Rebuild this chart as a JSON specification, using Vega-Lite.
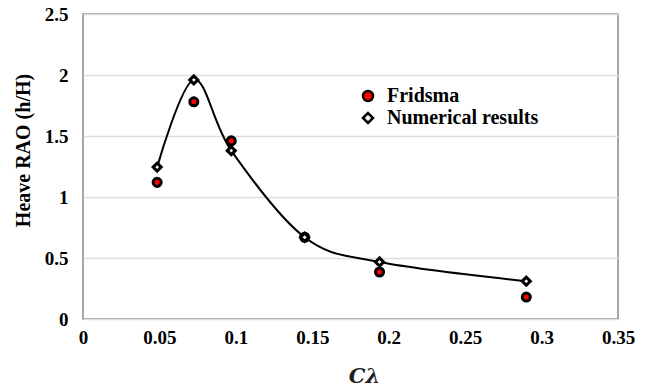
{
  "$schema": "https://vega.github.io/schema/vega-lite/v6.json",
  "autosize": "none",
  "width": 535,
  "height": 305,
  "padding": {"left": 83, "top": 14, "right": 33, "bottom": 73},
  "background": "white",
  "config": {
    "view": {"stroke": "#898989", "strokeWidth": 1.5},
    "font": "Liberation Serif"
  },
  "data": {
    "values": [
      {"series": "Fridsma", "x": 0.0485, "y": 1.12},
      {"series": "Fridsma", "x": 0.0725, "y": 1.78},
      {"series": "Fridsma", "x": 0.097, "y": 1.46},
      {"series": "Fridsma", "x": 0.145, "y": 0.67},
      {"series": "Fridsma", "x": 0.194, "y": 0.385},
      {"series": "Fridsma", "x": 0.29, "y": 0.18},
      {"series": "Numerical results", "x": 0.0485, "y": 1.245},
      {"series": "Numerical results", "x": 0.0725, "y": 1.96},
      {"series": "Numerical results", "x": 0.097, "y": 1.38},
      {"series": "Numerical results", "x": 0.145, "y": 0.67},
      {"series": "Numerical results", "x": 0.194, "y": 0.467},
      {"series": "Numerical results", "x": 0.29, "y": 0.31}
    ]
  },
  "encoding": {
    "x": {
      "field": "x", "type": "quantitative",
      "scale": {"domain": [0, 0.35], "nice": false, "zero": false},
      "axis": {
        "values": [0, 0.05, 0.1, 0.15, 0.2, 0.25, 0.3, 0.35],
        "format": ".2~f",
        "grid": false, "domain": false, "ticks": false,
        "labelFont": "Liberation Serif", "labelFontWeight": "bold", "labelFontSize": 19, "labelColor": "#000000",
        "labelPadding": 9, "labelFlush": false,
        "title": "Cλ",
        "titleFont": "DejaVu Serif", "titleFontStyle": "italic", "titleFontWeight": "bold", "titleFontSize": 21, "titleColor": "#1f1f1f",
        "titleX": 281, "titleY": 57, "titleAlign": "center", "titleBaseline": "middle"
      }
    },
    "y": {
      "field": "y", "type": "quantitative",
      "scale": {"domain": [0, 2.5], "nice": false},
      "axis": {
        "values": [0, 0.5, 1, 1.5, 2, 2.5],
        "format": "~g",
        "grid": true, "gridColor": "#dedede", "gridWidth": 1.5,
        "domain": false, "ticks": false,
        "labelFont": "Liberation Serif", "labelFontWeight": "bold", "labelFontSize": 19, "labelColor": "#000000",
        "labelPadding": 15,
        "title": "Heave RAO (h/H)",
        "titleFont": "Liberation Serif", "titleFontWeight": "bold", "titleFontSize": 20, "titleColor": "#000000",
        "titleX": -60, "titleY": 136, "titleAngle": -90, "titleAlign": "center", "titleBaseline": "middle"
      }
    }
  },
  "layer": [
    {
      "transform": [{"filter": "datum.series === 'Numerical results'"}],
      "mark": {"type": "line", "interpolate": "cardinal", "stroke": "#000000", "strokeWidth": 2},
      "encoding": {}
    },
    {
      "mark": {"type": "point", "filled": true, "stroke": "#000000", "strokeWidth": 3, "size": 65, "opacity": 1},
      "encoding": {
        "shape": {
          "field": "series", "type": "nominal",
          "scale": {"domain": ["Fridsma", "Numerical results"], "range": ["circle", "diamond"]},
          "legend": {
            "title": null,
            "orient": "none", "legendX": 275, "legendY": 72,
            "padding": 0, "rowPadding": 2, "labelOffset": 9,
            "labelFont": "Liberation Serif", "labelFontWeight": "bold", "labelFontSize": 20, "labelColor": "#000000",
            "symbolSize": 100, "symbolStrokeWidth": 2.5
          }
        },
        "fill": {
          "field": "series", "type": "nominal",
          "scale": {"domain": ["Fridsma", "Numerical results"], "range": ["#ff0000", "#ffffff"]},
          "legend": {
            "title": null,
            "orient": "none", "legendX": 275, "legendY": 72,
            "padding": 0, "rowPadding": 2, "labelOffset": 9,
            "labelFont": "Liberation Serif", "labelFontWeight": "bold", "labelFontSize": 20, "labelColor": "#000000",
            "symbolSize": 100, "symbolStrokeWidth": 2.5
          }
        }
      }
    }
  ]
}
